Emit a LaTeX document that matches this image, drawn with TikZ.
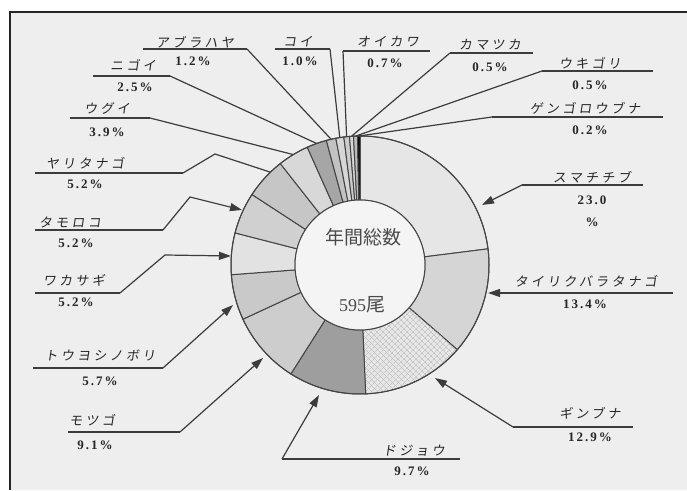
\documentclass[tikz,border=0pt]{standalone}
\usepackage{fontspec}
\setmainfont{Liberation Serif}
\newfontfamily\jpfont[FakeSlant=0.15,LetterSpace=25]{Noto Sans CJK JP}
\newfontfamily\jpcenter{Noto Sans CJK JP}
\newfontfamily\pctfont[LetterSpace=15]{Liberation Serif}
\usetikzlibrary{arrows.meta,calc,patterns.meta}
\definecolor{bg}{HTML}{EEEEEE}
\definecolor{txt}{HTML}{262626}
\definecolor{ln}{HTML}{3C3C3C}
\definecolor{sl}{HTML}{444444}
\definecolor{ctrtxt}{HTML}{4A4A4A}
\definecolor{innerc}{HTML}{F4F4F4}
\definecolor{hatch}{HTML}{B4B4B4}
\tikzset{
  nm/.style={font={\jpfont\fontsize{13}{15}\selectfont}, text=txt, inner sep=0pt},
  pc/.style={font={\pctfont\bfseries\fontsize{13}{15}\selectfont}, text=txt, inner sep=0pt},
  ctr/.style={font={\jpcenter\fontsize{19}{21}\selectfont}, text=ctrtxt, inner sep=0pt},
  uline/.style={draw=ln, line width=1.5pt},
  lead/.style={draw=ln, line width=1.2pt},
  arr/.style={lead, -{Triangle[length=12pt,width=8pt]}},
  slc/.style={draw=sl, line width=1pt},
}
\newcommand\dslice[3]{\path[slc,#3] ($(C)+(#1:129pt)$) arc[start angle=#1, end angle=#2, radius=129pt] -- ($(C)+(#2:65pt)$) arc[start angle=#2, end angle=#1, radius=65pt] -- cycle;}
\begin{document}
\begin{tikzpicture}[x=1pt,y=1pt]
\useasboundingbox (0,0) rectangle (687,490);
\fill[white] (0,0) rectangle (687,490);
\fill[bg] (10,0) rectangle (687,478);
\draw[line width=1.5pt, draw=black!85] (10,0) -- (10,478) -- (687,478);
\coordinate (C) at (360,225);
% donut slices
\dslice{90}{7.2}{fill={rgb,255:red,230;green,230;blue,230}}
\dslice{7.2}{-41.04}{fill={rgb,255:red,213;green,213;blue,213}}
\dslice{-41.04}{-87.48}{fill={rgb,255:red,230;green,230;blue,230},
  postaction={pattern={Lines[angle=45,distance=4pt,line width=0.4pt]},pattern color=hatch},
  postaction={pattern={Lines[angle=-45,distance=4pt,line width=0.4pt]},pattern color=hatch}}
\dslice{-87.48}{-122.4}{fill={rgb,255:red,158;green,158;blue,158}}
\dslice{-122.4}{-155.16}{fill={rgb,255:red,205;green,205;blue,205}}
\dslice{-155.16}{-175.68}{fill={rgb,255:red,201;green,201;blue,201}}
\dslice{-175.68}{-194.4}{fill={rgb,255:red,226;green,226;blue,226}}
\dslice{-194.4}{-213.12}{fill={rgb,255:red,208;green,208;blue,208}}
\dslice{-213.12}{-231.84}{fill={rgb,255:red,198;green,198;blue,198}}
\dslice{-231.84}{-245.88}{fill={rgb,255:red,216;green,216;blue,216}}
\dslice{-245.88}{-254.88}{fill={rgb,255:red,166;green,166;blue,166}}
\dslice{-254.88}{-259.2}{fill={rgb,255:red,194;green,194;blue,194}}
\dslice{-259.2}{-262.8}{fill={rgb,255:red,214;green,214;blue,214}}
\dslice{-262.8}{-265.32}{fill={rgb,255:red,204;green,204;blue,204}}
\dslice{-265.32}{-267.12}{fill={rgb,255:red,214;green,214;blue,214}}
\dslice{-267.12}{-268.92}{fill={rgb,255:red,189;green,189;blue,189}}
\dslice{-268.92}{-270}{fill=black}
\draw[slc] (C) circle[radius=129pt];
\filldraw[slc, fill=innerc] (C) circle[radius=65pt];
\node[ctr] (tot) at (363,253) {年間総数};
\node[ctr] (num) at (362,185) {{\rmfamily\fontsize{18}{20}\selectfont 595}尾};
% slice anchor coordinates
\coordinate (abT) at (331.1,350.7);
\coordinate (koT) at (339.8,352.4);
\coordinate (oiT) at (346.6,353.3);
\coordinate (kmT) at (351.5,353.7);
\coordinate (ukT) at (355.5,353.9);
\coordinate (gnT) at (358.8,354);
\coordinate (ngT) at (316.7,346.5);
\coordinate (ugT) at (293.3,335.4);
\coordinate (yrT) at (270.4,317.8);
\coordinate (tmT) at (242,280);
\coordinate (wkT) at (231,234);
\coordinate (tyT) at (233,185);
\coordinate (mtT) at (263,132);
\coordinate (djT) at (319,95);
\coordinate (gbT) at (435,112);
\coordinate (trT) at (488,197);
\coordinate (smT) at (482,285);
% アブラハヤ
\coordinate (abL) at (143,441); \coordinate (abR) at (247,441);
\node[nm] (abN) at (195,448) {アブラハヤ};
\node[pc] (abP) at (193,429) {1.2\%};
\draw[uline] (abL) -- (abR);
\draw[lead] (abR) -- (abT);
% コイ
\coordinate (koL) at (275,441); \coordinate (koR) at (330,441);
\node[nm] (koN) at (298,448) {コイ};
\node[pc] (koP) at (300,429) {1.0\%};
\draw[uline] (koL) -- (koR);
\draw[lead] (koR) -- (koT);
% オイカワ
\coordinate (oiL) at (343,439); \coordinate (oiR) at (430,439);
\node[nm] (oiN) at (388,448) {オイカワ};
\node[pc] (oiP) at (385,427) {0.7\%};
\draw[uline] (oiL) -- (oiR);
\draw[lead] (oiL) -- (oiT);
% カマツカ
\coordinate (kmL) at (450,437); \coordinate (kmR) at (533,437);
\node[nm] (kmN) at (490,445) {カマツカ};
\node[pc] (kmP) at (490,423) {0.5\%};
\draw[uline] (kmL) -- (kmR);
\draw[lead] (kmL) -- (kmT);
% ウキゴリ
\coordinate (ukL) at (542,419); \coordinate (ukR) at (653,419);
\node[nm] (ukN) at (590,427) {ウキゴリ};
\node[pc] (ukP) at (590,405) {0.5\%};
\draw[uline] (ukL) -- (ukR);
\draw[lead] (ukL) -- (ukT);
% ゲンゴロウブナ
\coordinate (gnL) at (492,373); \coordinate (gnR) at (663,373);
\node[nm] (gnN) at (585,382) {ゲンゴロウブナ};
\node[pc] (gnP) at (590,360) {0.2\%};
\draw[uline] (gnL) -- (gnR);
\draw[lead] (gnL) -- (gnT);
% ニゴイ
\coordinate (ngL) at (93,414); \coordinate (ngR) at (170,414);
\node[nm] (ngN) at (133,425) {ニゴイ};
\node[pc] (ngP) at (135,403) {2.5\%};
\draw[uline] (ngL) -- (ngR);
\draw[lead] (ngR) -- (ngT);
% ウグイ
\coordinate (ugL) at (70,372); \coordinate (ugR) at (150,372);
\node[nm] (ugN) at (107,382) {ウグイ};
\node[pc] (ugP) at (107,358) {3.9\%};
\draw[uline] (ugL) -- (ugR);
\draw[lead] (ugR) -- (ugT);
% ヤリタナゴ
\coordinate (yrL) at (35,317); \coordinate (yrR) at (183,317); \coordinate (yrB) at (215,336);
\node[nm] (yrN) at (85,327) {ヤリタナゴ};
\node[pc] (yrP) at (85,306) {5.2\%};
\draw[uline] (yrL) -- (yrR);
\draw[lead] (yrR) -- (yrB) -- (yrT);
% タモロコ
\coordinate (tmL) at (35,260); \coordinate (tmR) at (163,260); \coordinate (tmB) at (190,293);
\node[nm] (tmN) at (70,268) {タモロコ};
\node[pc] (tmP) at (76,247) {5.2\%};
\draw[uline] (tmL) -- (tmR);
\draw[arr] (tmR) -- (tmB) -- (tmT);
% ワカサギ
\coordinate (wkL) at (35,197); \coordinate (wkR) at (120,197); \coordinate (wkB) at (165,235);
\node[nm] (wkN) at (74,210) {ワカサギ};
\node[pc] (wkP) at (76,188) {5.2\%};
\draw[uline] (wkL) -- (wkR);
\draw[arr] (wkR) -- (wkB) -- (wkT);
% トウヨシノボリ
\coordinate (tyL) at (33,122); \coordinate (tyR) at (163,122);
\node[nm] (tyN) at (100,135) {トウヨシノボリ};
\node[pc] (tyP) at (100,109) {5.7\%};
\draw[uline] (tyL) -- (tyR);
\draw[arr] (tyR) -- (tyT);
% モツゴ
\coordinate (mtL) at (68,58); \coordinate (mtR) at (180,58);
\node[nm] (mtN) at (92,70) {モツゴ};
\node[pc] (mtP) at (95,45) {9.1\%};
\draw[uline] (mtL) -- (mtR);
\draw[arr] (mtR) -- (mtT);
% ドジョウ
\coordinate (djL) at (282,31); \coordinate (djR) at (460,31);
\node[nm] (djN) at (414,39) {ドジョウ};
\node[pc] (djP) at (412,19) {9.7\%};
\draw[uline] (djL) -- (djR);
\draw[arr] (djL) -- (djT);
% ギンブナ
\coordinate (gbL) at (513,63); \coordinate (gbR) at (633,63);
\node[nm] (gbN) at (590,77) {ギンブナ};
\node[pc] (gbP) at (590,53) {12.9\%};
\draw[uline] (gbL) -- (gbR);
\draw[arr] (gbL) -- (gbT);
% タイリクバラタナゴ
\coordinate (trL) at (503,197); \coordinate (trR) at (673,197);
\node[nm] (trN) at (586,209) {タイリクバラタナゴ};
\node[pc] (trP) at (585,186) {13.4\%};
\draw[uline] (trR) -- (trL);
\draw[arr] (trL) -- (trT);
% スマチチブ
\coordinate (smL) at (522,305); \coordinate (smR) at (643,305);
\node[nm] (smN) at (592,313) {スマチチブ};
\node[pc] (smP) at (592,290) {23.0};
\node[pc] (smQ) at (592,268) {\%};
\draw[uline] (smL) -- (smR);
\draw[arr] (smL) -- (smT);
\end{tikzpicture}
\end{document}
